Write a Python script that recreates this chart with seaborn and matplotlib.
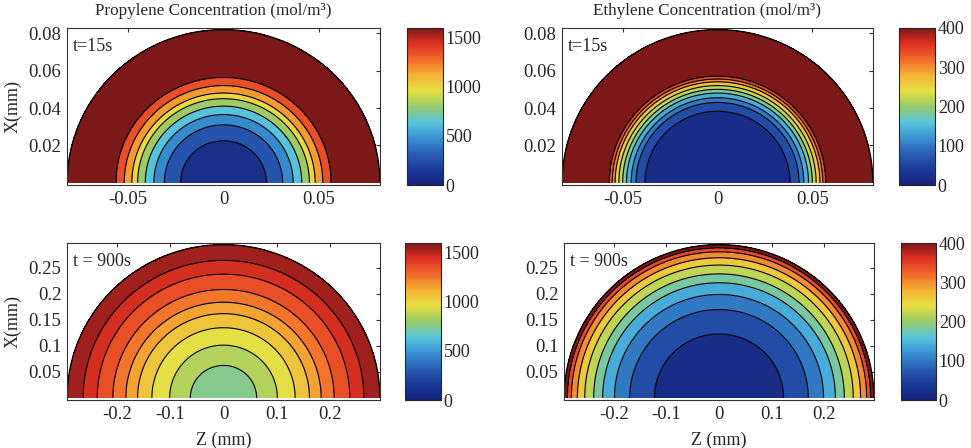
import numpy as np
import matplotlib
matplotlib.use("Agg")
import matplotlib.pyplot as plt
import seaborn as sns
from matplotlib.colors import Normalize
from matplotlib.cm import ScalarMappable

prop_15_radius = [0.0, 0.0225, 0.031, 0.0365, 0.041, 0.045, 0.048, 0.052, 0.0563, 0.082]
prop_15_conc = [40, 180, 360, 540, 720, 900, 1080, 1260, 1440, 1600]
prop_15_levels = [0, 180, 360, 540, 720, 900, 1080, 1260, 1440, 1760]

eth_15_radius = [0.0, 0.0383, 0.043, 0.0455, 0.048, 0.050, 0.052, 0.054, 0.0555, 0.057, 0.082]
eth_15_conc = [5, 40, 80, 120, 160, 200, 240, 280, 320, 360, 400]

prop_900_radius = [0.0, 0.0625, 0.1015, 0.135, 0.162, 0.184, 0.2085, 0.238, 0.2645, 0.295]
prop_900_conc = [720, 800, 900, 1000, 1100, 1200, 1300, 1400, 1500, 1570]
prop_900_levels = [700, 800, 900, 1000, 1100, 1200, 1300, 1400, 1500, 1580]

eth_900_radius = [0.0, 0.123, 0.17, 0.199, 0.2215, 0.2385, 0.2555, 0.2695, 0.281, 0.2885, 0.295]
eth_900_conc = [5, 40, 80, 120, 160, 200, 240, 280, 320, 360, 400]

eth_levels = [0, 40, 80, 120, 160, 200, 240, 280, 320, 360, 440]

prop_cbar_ticks = [0, 500, 1000, 1500]
eth_cbar_ticks = [0, 100, 200, 300, 400]

small_xticks = [-0.05, 0, 0.05]
small_yticks = [0.02, 0.04, 0.06, 0.08]
big_xticks = [-0.2, -0.1, 0, 0.1, 0.2]
big_yticks = [0.05, 0.1, 0.15, 0.2, 0.25]

sns.set_style("white")
plt.rcParams['font.family'] = ['Liberation Serif', 'DejaVu Serif']
plt.rcParams['axes.unicode_minus'] = False

# muted jet-like colormap
jet_colors = ["#15217a", "#1c3a98", "#2a5eb4", "#3a92d2", "#58c6dc", "#98ca6a",
              "#e6e042", "#f4b234", "#f26a2a", "#de3022", "#7c1818"]
cmap = sns.blend_palette(jet_colors, as_cmap=True)

W, H = 971, 448
fig = plt.figure(figsize=(W / 100, H / 100), dpi=100)


def px_axes(x0, y0, x1, y1):
    return fig.add_axes([x0 / W, 1 - y1 / H, (x1 - x0) / W, (y1 - y0) / H])


def draw_panel(box, cbox, radius, conc, levels, vmax, cticks, xticks, yticks, label, ylim_pad):
    ax = px_axes(*box)
    R = radius[-1]
    z = np.linspace(-R, R, 901)
    x = np.linspace(0, R, 451)
    zz, xx = np.meshgrid(z, x)
    rr = np.hypot(zz, xx)
    field = np.interp(rr, radius, conc)
    field = np.ma.masked_where(rr > R, field)
    norm = Normalize(0, vmax)
    ax.contourf(zz, xx, field, levels=levels, cmap=cmap, norm=norm)
    ax.contour(zz, xx, field, levels=levels[1:-1], colors='k', linewidths=0.8)
    ax.contour(zz, xx, rr, levels=[R * 0.999], colors='k', linewidths=1.0)
    ax.set_xlim(-R, R)
    ax.set_ylim(-ylim_pad, R * 1.01)
    ax.set_xticks(xticks)
    ax.set_xticklabels([f"{v:g}" for v in xticks])
    ax.set_yticks(yticks)
    ax.set_yticklabels([f"{v:g}" for v in yticks])
    ax.tick_params(direction='in', top=True, right=True, length=3, width=0.8,
                   labelsize=13.5, pad=4, color='#333333')
    for spine in ax.spines.values():
        spine.set_color('#333333')
        spine.set_linewidth(0.8)
    ax.text(0.02, 0.88, label, transform=ax.transAxes, fontsize=13, va='center')

    cax = px_axes(*cbox)
    cb = fig.colorbar(ScalarMappable(norm=norm, cmap=cmap), cax=cax)
    cb.set_ticks(cticks)
    cb.ax.tick_params(direction='in', left=True, right=True, length=3, width=0.8,
                      labelsize=13, pad=2)
    cb.outline.set_linewidth(0.8)
    return ax


ax1 = draw_panel((67, 28, 380, 185), (407, 28, 443, 185), prop_15_radius, prop_15_conc,
                 prop_15_levels, 1600, prop_cbar_ticks, small_xticks, small_yticks, "t=15s", 0.0012)
ax2 = draw_panel((562, 28, 873, 185), (899, 28, 935, 185), eth_15_radius, eth_15_conc,
                 eth_levels, 400, eth_cbar_ticks, small_xticks, small_yticks, "t=15s", 0.0012)
ax3 = draw_panel((67, 243, 380, 400), (405, 243, 441, 400), prop_900_radius, prop_900_conc,
                 prop_900_levels, 1600, prop_cbar_ticks, big_xticks, big_yticks, "t = 900s", 0.004)
ax4 = draw_panel((564, 243, 874, 400), (901, 243, 936, 400), eth_900_radius, eth_900_conc,
                 eth_levels, 400, eth_cbar_ticks, big_xticks, big_yticks, "t = 900s", 0.004)

ax1.text(0.466, 1.108, "Propylene Concentration (mol/m³)", transform=ax1.transAxes,
         ha='center', va='center', fontsize=12.3)
ax2.text(0.466, 1.108, "Ethylene Concentration (mol/m³)", transform=ax2.transAxes,
         ha='center', va='center', fontsize=12.3)

for ax in (ax1, ax3):
    ax.set_ylabel("X(mm)", fontsize=13)
    ax.yaxis.set_label_coords(-0.145, 0.5)
for ax in (ax3, ax4):
    ax.set_xlabel("Z (mm)", fontsize=13)
    ax.xaxis.set_label_coords(0.5, -0.2)

fig.savefig("out.png", dpi=100)
